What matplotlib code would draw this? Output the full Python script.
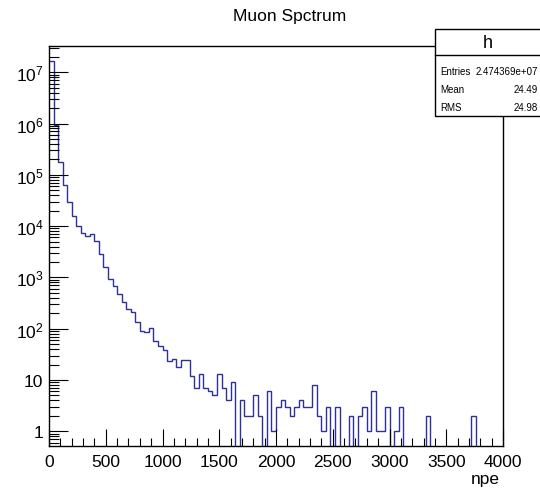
import numpy as np
import matplotlib
matplotlib.use("Agg")
import matplotlib.pyplot as plt
from matplotlib.ticker import FixedLocator, FuncFormatter, LogLocator, MultipleLocator
from matplotlib.patches import Rectangle
from matplotlib.lines import Line2D

plt.rcParams['font.family'] = ['Liberation Sans', 'DejaVu Sans']
plt.rcParams['mathtext.fontset'] = 'custom'
plt.rcParams['mathtext.rm'] = 'Liberation Sans'
plt.rcParams['mathtext.it'] = 'Liberation Sans:italic'
plt.rcParams['mathtext.bf'] = 'Liberation Sans:bold'

# ---- data -------------------------------------------------------------
title = "Muon Spctrum"
x_label = "npe"
hist_name = "h"
stat_names = ["Entries", "Mean", "RMS"]
stat_values = ["2.474369e+07", "24.49", "24.98"]

bin_lo, bin_hi, n_bins = 0, 4000, 100
counts = [
    1.67e7, 9.3e5, 1.75e5, 6.4e4, 3.0e4, 1.6e4, 9.9e3, 7.4e3, 6.5e3, 6.9e3,
    5.2e3, 2.9e3, 1.57e3, 950, 670, 475, 336, 242, 208, 133,
    91, 85, 102, 58, 47, 39, 23, 26, 18, 24,
    24, 12, 7, 13, 7, 6, 5, 13, 7, 4,
    9, 0, 4, 2, 2, 5, 2, 0, 6, 1,
    3, 4, 3, 2, 3, 4, 3, 3, 8, 2,
    1, 3, 0, 3, 0, 0, 2, 0, 2, 3,
    1, 6, 1, 1, 3, 0, 1, 3, 0, 0,
    0, 0, 0, 2, 0, 0, 0, 0, 0, 0,
    0, 0, 0, 2, 0, 0, 0, 0, 0, 0,
]
x_ticks = [0, 500, 1000, 1500, 2000, 2500, 3000, 3500, 4000]
y_ticks = [1, 10, 1e2, 1e3, 1e4, 1e5, 1e6, 1e7]
y_lim = (0.524, 3.2e7)

# ---- figure -------------------------------------------------------------
W, H = 540, 489
fig = plt.figure(figsize=(W / 100, H / 100), dpi=100)
L, R, T, B = 49, 503, 47.3, 446.7
ax = fig.add_axes([L / W, 1 - B / H, (R - L) / W, (B - T) / H])

edges = np.linspace(bin_lo, bin_hi, n_bins + 1)
vals = np.array(counts, dtype=float)
vals = np.where(vals > 0, vals, 1e-3)
ax.stairs(vals, edges, baseline=None, color='#30309a', linewidth=1.0)

ax.set_yscale('log')
ax.set_xlim(bin_lo, bin_hi)
ax.set_ylim(*y_lim)

ax.xaxis.set_major_locator(FixedLocator(x_ticks))
ax.xaxis.set_minor_locator(MultipleLocator(100))
ax.yaxis.set_major_locator(FixedLocator(y_ticks))
ax.yaxis.set_minor_locator(LogLocator(base=10, subs=np.arange(2, 10), numticks=20))


def yfmt(v, pos):
    e = int(round(np.log10(v)))
    if e == 0:
        return "1"
    if e == 1:
        return "10"
    return r"$\mathregular{10^{%d}}$" % e


ax.yaxis.set_major_formatter(FuncFormatter(yfmt))
ax.xaxis.set_major_formatter(FuncFormatter(lambda v, p: "%d" % v))
ax.yaxis.set_minor_formatter(FuncFormatter(lambda v, p: ""))

ax.tick_params(axis='x', which='major', direction='in', length=12, width=0.8,
               labelsize=12.5, pad=6, top=False)
ax.tick_params(axis='x', which='minor', direction='in', length=6, width=0.8, top=False)
ax.tick_params(axis='y', which='major', direction='in', length=14, width=0.8,
               labelsize=12.5, pad=4, right=False)
ax.tick_params(axis='y', which='minor', direction='in', length=7, width=0.8, right=False)
for s in ax.spines.values():
    s.set_linewidth(1.0)
    s.set_color('black')

fig.text(290 / W, 1 - 17 / H, title, ha='center', va='center', fontsize=12.5)
fig.text(500 / W, 1 - 480 / H, x_label, ha='right', va='center', fontsize=12.5)

# stats box
bx0, bx1, by0, by1, bdiv = 435, 541, 30, 117, 56
fig.patches.append(Rectangle((bx0 / W, 1 - by1 / H), (bx1 - bx0) / W, (by1 - by0) / H,
                             transform=fig.transFigure, facecolor='white',
                             edgecolor='black', linewidth=1.0, zorder=5))
fig.lines.append(Line2D([bx0 / W, bx1 / W], [1 - bdiv / H, 1 - bdiv / H],
                        transform=fig.transFigure, color='black', linewidth=1.0, zorder=6))
fig.text((bx0 + bx1) / 2 / W, 1 - 43.5 / H, hist_name, ha='center', va='center',
         fontsize=13, zorder=7)
row_y = [72, 90, 108]
for name, val, yy in zip(stat_names, stat_values, row_y):
    fig.text(440 / W, 1 - yy / H, name, ha='left', va='center', fontsize=7, zorder=7)
    fig.text(538 / W, 1 - yy / H, val, ha='right', va='center', fontsize=7, zorder=7)

fig.savefig("out.png", dpi=100)
